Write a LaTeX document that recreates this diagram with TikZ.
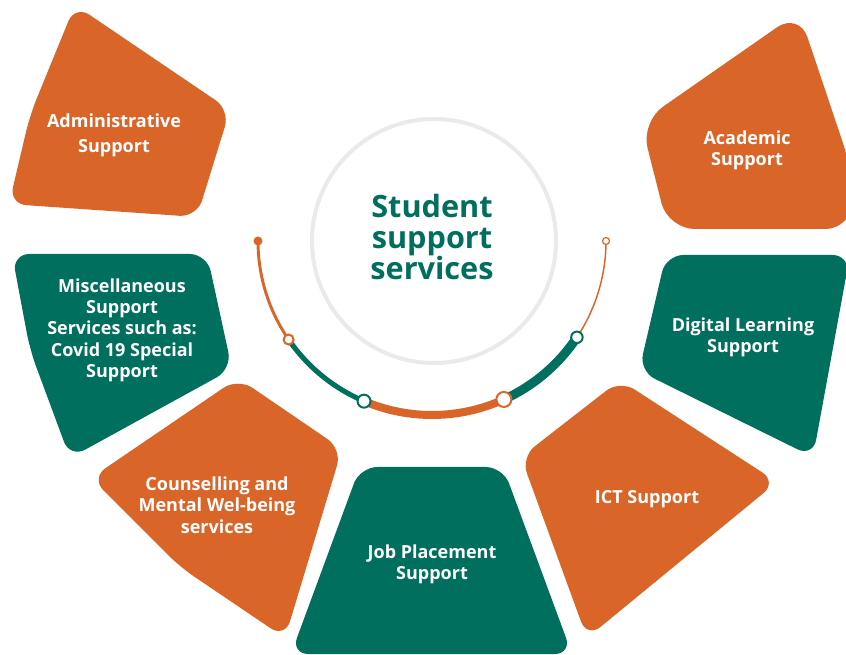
\documentclass[tikz,border=0pt]{standalone}
\usepackage{fontspec}
\setmainfont{Open Sans}
\definecolor{ssorange}{RGB}{218,101,40}
\definecolor{ssgreen}{RGB}{0,111,93}
\definecolor{ringgrey}{RGB}{234,234,234}

\begin{document}
\begin{tikzpicture}[x=0.75pt,y=-0.75pt,
		petal/.style={rounded corners=13pt},
		lbl/.style={text=white,font=\bfseries\fontsize{13.5}{16}\selectfont,align=center,inner sep=0pt},
		dot/.style={circle,fill=white,draw,line width=1.5pt,inner sep=0pt}]
			\useasboundingbox (0,0) rectangle (846,655);
			
			\fill[ssorange,petal] (75,5) -- (230,110) -- (197,217) -- (9,204) -- (30,115) -- cycle;
			\fill[ssorange,petal,rounded corners=20pt] (641,122) -- (799,12) -- (852,170) -- (852,229) -- (668,229) -- cycle;
			\fill[ssgreen,petal] (12,254) -- (207,254) -- (232,369) -- (70,458) -- (30,350) -- cycle;
			\fill[ssgreen,petal] (666,255) -- (850,255) -- (813,457) -- (639,371) -- cycle;
			\fill[ssorange,petal] (238,378) -- (342,449) -- (285,638) -- (180,567) -- (91,478) -- cycle;
			\fill[ssorange,petal] (620,380) -- (777,482) -- (587,638) -- (521,457) -- cycle;
			\fill[ssgreen,petal] (360,467) -- (503,467) -- (572,654) -- (291,654) -- cycle;
			
			\node[lbl,font=\bfseries\fontsize{13.5}{18.5}\selectfont] (admin) at (114,135) {Administrative\\Support};
			\node[lbl] (academic) at (747,150) {Academic\\Support};
			\node[lbl] (misc) at (122,330) {Miscellaneous\\Support\\Services such as:\\Covid 19 Special\\Support};
			\node[lbl] (digital) at (743,337) {Digital Learning\\Support};
			\node[lbl] (counsel) at (217,505) {Counselling and\\Mental Wel-being\\services};
			\node[lbl] (ict) at (647,499) {ICT Support};
			\node[lbl] (job) at (432,564) {Job Placement\\Support};
			
			\node[circle,draw=ringgrey,line width=3pt,minimum size=183pt] (hub) at (434,241) {};
			\node[text=ssgreen,font=\bfseries\fontsize{23}{23.5}\selectfont,align=center] (title) at (432,237) {Student\\support\\services};
			
			\coordinate (c) at (432,241);
			\path (c) ++(180:174) coordinate (p0);
			\path (c) ++(145.5:174) coordinate (p1);
			\path (c) ++(113:174) coordinate (p2);
			\path (c) ++(65.6:174) coordinate (p3);
			\path (c) ++(33.6:174) coordinate (p4);
			\path (c) ++(0:174) coordinate (p5);
			
			\draw[ssorange,line width=2.2pt] (p0) arc[start angle=180,end angle=145.5,radius=174];
			\draw[ssgreen,line width=3.8pt] (p1) arc[start angle=145.5,end angle=113,radius=174];
			\draw[ssorange,line width=6pt] (p2) arc[start angle=113,end angle=65.6,radius=174];
			\draw[ssgreen,line width=6.8pt] (p3) arc[start angle=65.6,end angle=33.6,radius=174];
			\draw[ssorange,line width=1.1pt] (p4) arc[start angle=33.6,end angle=0,radius=174];
			
			\node[circle,fill=ssorange,inner sep=0pt,minimum size=6.75pt] (start) at (p0) {};
			\node[dot,draw=ssorange,line width=0.9pt,minimum size=5.25pt] (stop) at (p5) {};
			\node[dot,draw=ssorange,minimum size=7.5pt] (d1) at (p1) {};
			\node[dot,draw=ssgreen,minimum size=9.75pt] (d2) at (p2) {};
			\node[dot,draw=ssorange,minimum size=11.25pt] (d3) at (p3) {};
			\node[dot,draw=ssgreen,minimum size=8.6pt] (d4) at (p4) {};
		\end{tikzpicture}
\end{document}
